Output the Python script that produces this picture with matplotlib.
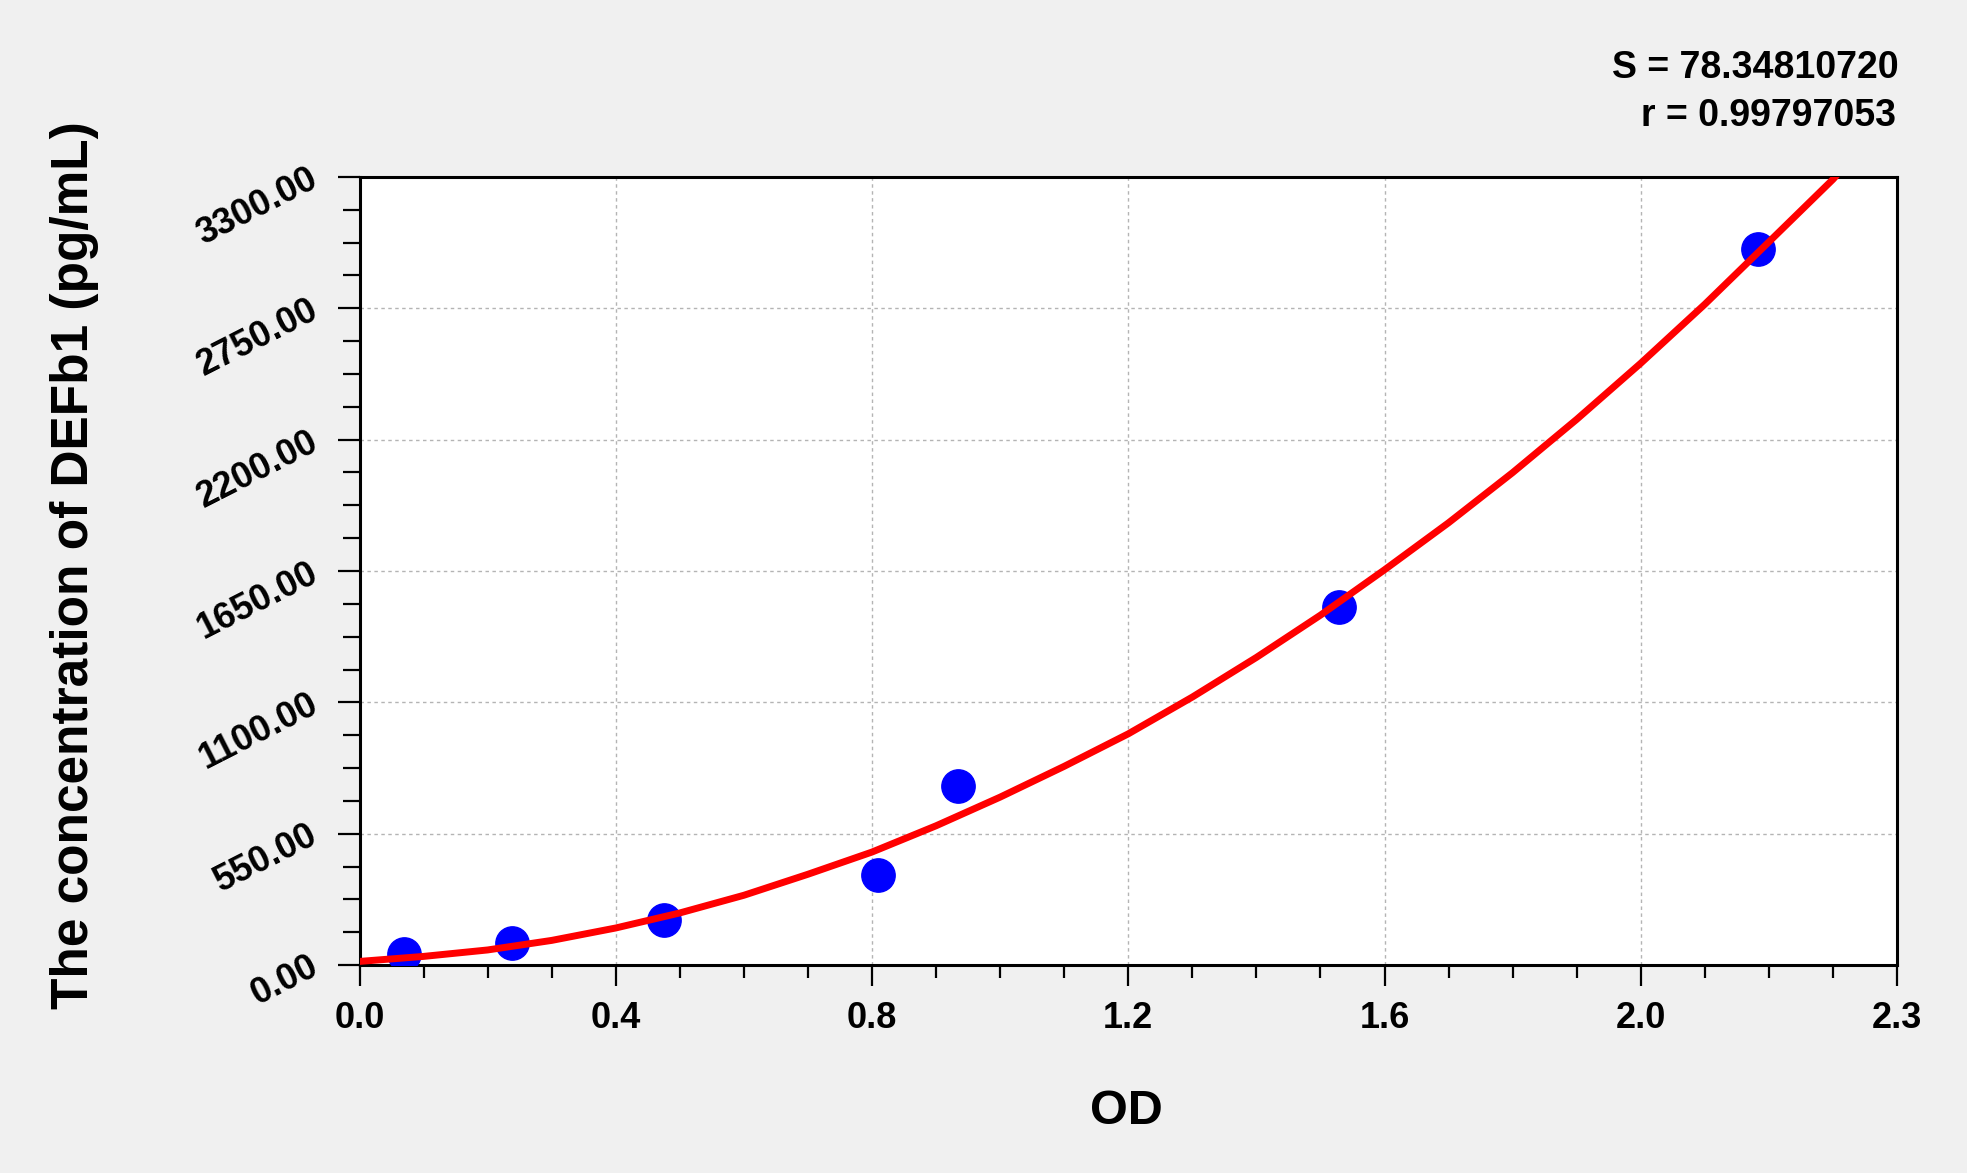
import numpy as np
import matplotlib
matplotlib.use("Agg")
import matplotlib.pyplot as plt
from matplotlib.ticker import FixedLocator, AutoMinorLocator

plt.rcParams['font.family'] = ['Liberation Sans', 'DejaVu Sans']
plt.rcParams['font.weight'] = 'bold'

# standards (OD vs concentration)
od = [0.070, 0.238, 0.475, 0.810, 0.935, 1.529, 2.183]
conc = [46.88, 93.75, 187.5, 375.0, 750.0, 1500.0, 3000.0]

# fitted curve
curve_od = [0.0, 0.1, 0.2, 0.3, 0.4, 0.5, 0.6, 0.7, 0.8, 0.9, 1.0, 1.1,
            1.2, 1.3, 1.4, 1.5, 1.6, 1.7, 1.8, 1.9, 2.0, 2.1, 2.2, 2.3, 2.31]
curve_conc = [15, 36, 63, 103, 155, 218, 292, 380, 473, 583, 703, 832,
              968, 1122, 1288, 1465, 1655, 1852, 2062, 2285, 2520, 2767,
              3028, 3290, 3320]

x_ticks = [0.0, 0.4, 0.8, 1.2, 1.6, 2.0, 2.4]
x_labels = ['0.0', '0.4', '0.8', '1.2', '1.6', '2.0', '2.3']
y_ticks = [0, 550, 1100, 1650, 2200, 2750, 3300]
y_labels = ['0.00', '550.00', '1100.00', '1650.00', '2200.00', '2750.00', '3300.00']

S_text = 'S = 78.34810720'
r_text = 'r = 0.99797053'

W, H = 1967, 1173
fig = plt.figure(figsize=(W / 100, H / 100), dpi=100, facecolor='#f0f0f0')
ax = fig.add_axes([359.5 / W, 1 - 965 / H, (1897 - 359.5) / W, (965 - 177) / H])
ax.set_facecolor('white')

ax.plot(od, conc, 'o', color='#0000ff', ms=24, zorder=3)
ax.plot(curve_od, curve_conc, color='#ff0000', lw=5, zorder=4,
        solid_capstyle='round', solid_joinstyle='round')

ax.set_xlim(0, 2.4)
ax.set_ylim(0, 3300)
ax.xaxis.set_major_locator(FixedLocator(x_ticks))
ax.set_xticklabels(x_labels)
ax.yaxis.set_major_locator(FixedLocator(y_ticks))
ax.set_yticklabels(y_labels)
ax.xaxis.set_minor_locator(AutoMinorLocator(4))
ax.yaxis.set_minor_locator(AutoMinorLocator(4))

ax.grid(True, which='major', color='#b4b4b4', lw=1.0, ls=(0, (2.5, 2.5)))
ax.set_axisbelow(True)

for sp in ax.spines.values():
    sp.set_linewidth(2.2)
    sp.set_color('black')

ax.tick_params(axis='x', which='major', direction='out', length=15, width=1.6,
               pad=11, labelsize=26, top=False)
ax.tick_params(axis='x', which='minor', direction='out', length=9.5, width=1.6,
               top=False)
ax.tick_params(axis='y', which='major', direction='out', length=15.5, width=1.6,
               pad=16, labelsize=26, right=False)
ax.tick_params(axis='y', which='minor', direction='out', length=12, width=1.6,
               right=False)

for lab in ax.get_yticklabels():
    lab.set_rotation(27)
    lab.set_rotation_mode('anchor')
    lab.set_ha('right')
    lab.set_va('center')
    lab.set_fontweight('bold')
for lab in ax.get_xticklabels():
    lab.set_fontweight('bold')

fig.text(75 / W, 1 - 565 / H, 'The concentration of DEFb1 (pg/mL)', rotation=90,
         ha='center', va='center', fontsize=37, fontweight='bold')
fig.text(1126.5 / W, 1 - 1112 / H, 'OD', ha='center', va='center',
         fontsize=35, fontweight='bold')
fig.text(1899 / W, 1 - 78 / H, S_text, ha='right', va='baseline',
         fontsize=27, fontweight='bold')
fig.text(1896 / W, 1 - 126 / H, r_text, ha='right', va='baseline',
         fontsize=27, fontweight='bold')

fig.savefig('out.png', dpi=100, facecolor=fig.get_facecolor())
